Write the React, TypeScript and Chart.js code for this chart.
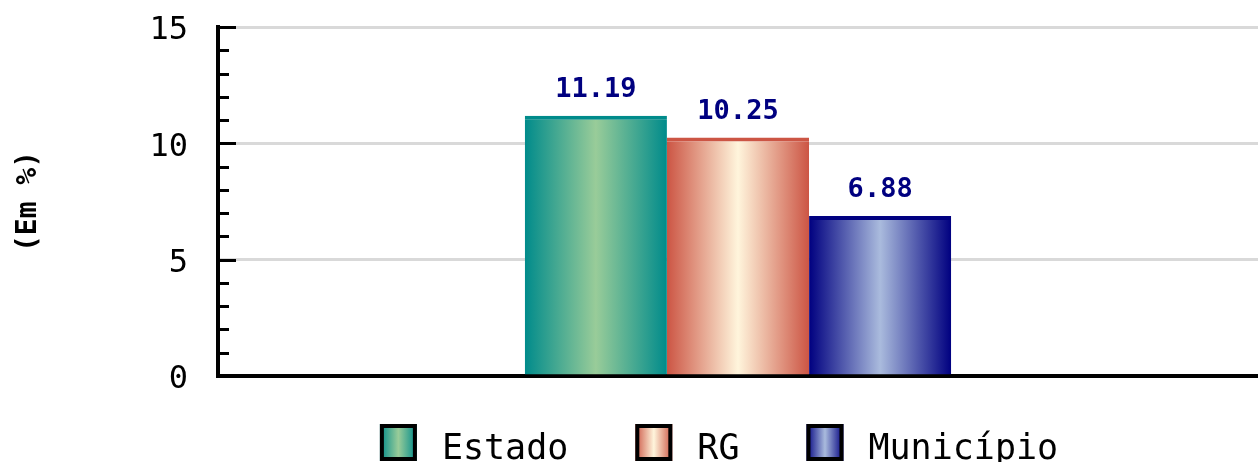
import React, { useEffect, useRef } from "react";
import { Chart, registerables } from "chart.js";

Chart.register(...registerables);

const categories: string[] = [""];
const seriesNames: string[] = ["Estado", "RG", "Município"];
const estadoValues: number[] = [11.19];
const rgValues: number[] = [10.25];
const municipioValues: number[] = [6.88];
const yTickValues: number[] = [0, 5, 10, 15];
const yAxisTitle = "(Em %)";

const edgeColors = ["#008b8b", "#cc5544", "#000080"];
const centerColors = ["#99cc99", "#fff5dc", "#aabbdd"];

const MONO = "'DejaVu Sans Mono', monospace";

function makeGradient(ctx: CanvasRenderingContext2D, x0: number, x1: number, i: number) {
  const g = ctx.createLinearGradient(x0, 0, x1, 0);
  g.addColorStop(0, edgeColors[i]);
  g.addColorStop(0.5, centerColors[i]);
  g.addColorStop(1, edgeColors[i]);
  return g;
}

const gradientPlugin = {
  id: "barGradient",
  beforeDatasetsDraw(chart: any) {
    const ctx = chart.ctx;
    chart.data.datasets.forEach((_ds: any, i: number) => {
      const meta = chart.getDatasetMeta(i);
      meta.data.forEach((el: any) => {
        const x0 = el.x - el.width / 2;
        const x1 = el.x + el.width / 2;
        el.options = Object.assign({}, el.options, {
          backgroundColor: makeGradient(ctx, x0, x1, i),
        });
      });
    });
  },
};

const valueLabelPlugin = {
  id: "valueLabels",
  afterDatasetsDraw(chart: any) {
    const ctx = chart.ctx;
    ctx.save();
    ctx.font = `bold 27px ${MONO}`;
    ctx.fillStyle = "#000080";
    ctx.textAlign = "center";
    ctx.textBaseline = "alphabetic";
    chart.data.datasets.forEach((ds: any, i: number) => {
      const meta = chart.getDatasetMeta(i);
      meta.data.forEach((el: any, j: number) => {
        ctx.fillText(Number(ds.data[j]).toFixed(2), el.x, el.y - 19);
      });
    });
    ctx.restore();
  },
};

const minorTickPlugin = {
  id: "minorTicks",
  afterDraw(chart: any) {
    const ctx = chart.ctx;
    const y = chart.scales.y;
    const left = chart.chartArea.left;
    ctx.save();
    ctx.strokeStyle = "#000";
    ctx.lineWidth = 3;
    for (let v = y.min; v <= y.max; v += 1) {
      if (v === 0) continue;
      const py = Math.round(y.getPixelForValue(v)) + 0.5;
      const len = v % 5 === 0 ? 18 : 11;
      ctx.beginPath();
      ctx.moveTo(left, py);
      ctx.lineTo(left + len, py);
      ctx.stroke();
    }
    ctx.restore();
  },
};

const legendPlugin = {
  id: "customLegend",
  afterDraw(chart: any) {
    const ctx = chart.ctx;
    ctx.save();
    ctx.font = `35px ${MONO}`;
    const box = 37;
    const gap = 25;
    const spacing = 67;
    const names = chart.data.datasets.map((d: any) => d.label);
    const widths = names.map((n: string) => ctx.measureText(n).width);
    let total = 0;
    widths.forEach((w: number, i: number) => {
      total += box + gap + w + (i < widths.length - 1 ? spacing : 0);
    });
    const center = (chart.chartArea.left + chart.chartArea.right) / 2 - 19;
    let x = center - total / 2;
    const boxTop = 424;
    names.forEach((n: string, i: number) => {
      ctx.fillStyle = makeGradient(ctx, x, x + box, i);
      ctx.fillRect(x, boxTop, box, box);
      ctx.strokeStyle = "#000";
      ctx.lineWidth = 4;
      ctx.strokeRect(x + 2, boxTop + 2, box - 4, box - 4);
      ctx.fillStyle = "#000";
      ctx.textAlign = "left";
      ctx.textBaseline = "alphabetic";
      ctx.fillText(n, x + box + gap, 459);
      x += box + gap + widths[i] + spacing;
    });
    ctx.restore();
  },
};

export default function App() {
  const ref = useRef<HTMLCanvasElement | null>(null);

  useEffect(() => {
    if (!ref.current) return;
    const seriesData = [estadoValues, rgValues, municipioValues];
    const chart = new Chart(ref.current, {
      type: "bar",
      data: {
        labels: categories,
        datasets: seriesNames.map((name, i) => ({
          label: name,
          data: seriesData[i],
          backgroundColor: centerColors[i],
          borderColor: edgeColors[i],
          borderWidth: { top: 4, left: 0, right: 0, bottom: 0 },
          borderSkipped: "start",
          categoryPercentage: 0.41,
          barPercentage: 1,
        })),
      },
      options: {
        responsive: false,
        animation: false,
        layout: { padding: { top: 27, right: 0, bottom: 0, left: 0 } },
        plugins: {
          legend: { display: false },
          tooltip: { enabled: false },
        },
        scales: {
          x: {
            type: "category",
            grid: { display: false, drawTicks: false },
            ticks: { display: false },
            border: { display: true, color: "#000", width: 4 },
            afterFit: (s: any) => {
              s.height = 86;
              s.paddingLeft = 0;
              s.paddingRight = 0;
            },
          },
          y: {
            min: 0,
            max: 15,
            afterBuildTicks: (s: any) => {
              s.ticks = yTickValues.map((v) => ({ value: v }));
            },
            ticks: {
              color: "#000",
              font: { family: MONO, size: 32 },
              padding: 30,
              labelOffset: 4,
            },
            grid: {
              drawTicks: false,
              lineWidth: 3,
              color: (c: any) => (c.tick && c.tick.value === 0 ? "rgba(0,0,0,0)" : "#d9d9d9"),
            },
            border: { display: true, color: "#000", width: 4 },
            title: {
              display: true,
              text: yAxisTitle,
              color: "#000",
              font: { family: MONO, size: 28, weight: "bold" },
              padding: { top: 12, bottom: 0 },
            },
            afterFit: (s: any) => {
              s.width = 218;
              s.paddingTop = 0;
              s.paddingBottom = 0;
            },
          },
        },
      },
      plugins: [gradientPlugin, valueLabelPlugin, minorTickPlugin, legendPlugin],
    } as any);
    return () => chart.destroy();
  }, []);

  return (
    <div style={{ position: "absolute", left: 0, top: 0, width: 1258, height: 462, background: "#fff" }}>
      <canvas ref={ref} width={1258} height={462} style={{ display: "block" }} />
    </div>
  );
}
